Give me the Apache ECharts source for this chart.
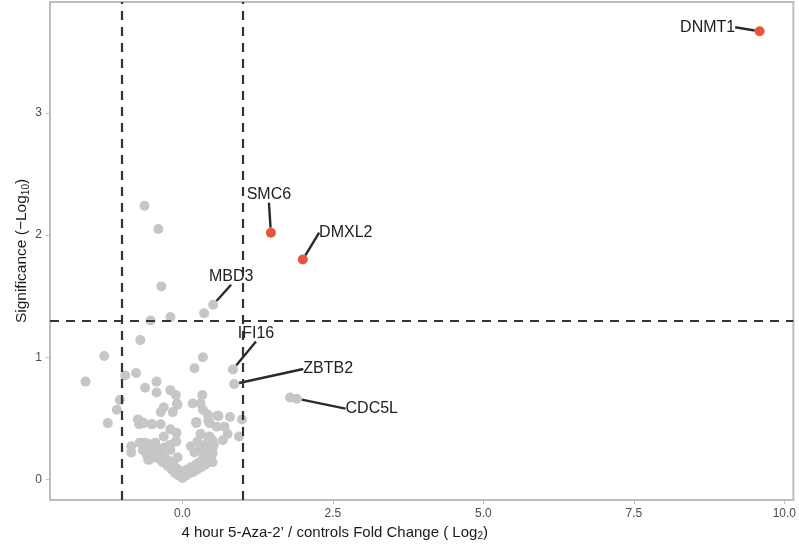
<!DOCTYPE html>
<html><head><meta charset="utf-8">
<script src="https://cdn.jsdelivr.net/npm/echarts@6/dist/echarts.min.js"></script>
<style>html,body{margin:0;padding:0;background:#fff}#c{width:799px;height:548px}</style>
</head><body><div id="c"></div>
<script>
// Labelled genes
const geneNames = ['DNMT1','SMC6','DMXL2','MBD3','IFI16','ZBTB2','CDC5L'];
const geneLogFC = [9.59, 1.47, 2.00, 0.51, 0.84, 0.86, 1.90];
const geneSig   = [3.67, 2.02, 1.80, 1.43, 0.90, 0.78, 0.66];

// Other (unlabelled) genes
const otherLogFC = [
 -0.63,-0.40,-0.35,0.36,-0.20,-0.53,-0.70,-1.30,0.34,0.20,-1.61,-0.95,-0.77,-0.62,-0.43,-0.43,-0.20,-0.11,0.33,
 -1.04,-1.09,-0.31,-0.36,-0.09,-0.16,0.17,0.30,0.34,0.42,0.60,0.79,0.99,-1.24,-0.74,-0.72,-0.64,-0.51,-0.36,
 0.23,0.43,0.57,0.70,0.75,0.67,0.94,-0.20,-0.10,-0.31,-0.11,0.30,0.43,0.50,-0.85,-0.85,-0.71,-0.57,-0.43,
 -0.60,-0.57,0.14,0.25,0.50,0.50,-0.08,0.58,-0.71,-0.66,-0.50,0.23,0.45,0.31,0.45,-0.21,-0.10,0.31,0.45,
 -0.66,-0.55,1.79,
 -0.55,-0.50,-0.48,-0.42,-0.40,-0.35,-0.33,-0.28,-0.25,-0.22,-0.18,-0.15,-0.12,-0.10,-0.06,-0.04,0.00,0.02,
 0.06,0.08,0.12,0.15,0.18,0.22,0.25,0.28,0.32,0.35,0.38,0.40,0.42,0.45,0.48,0.50,0.52,0.38,0.30,0.20,
 -0.30,-0.20,-0.08,-0.62,-0.45
];
const otherSig = [
 2.24,2.05,1.58,1.36,1.33,1.30,1.14,1.01,1.00,0.91,0.80,0.85,0.87,0.75,0.80,0.71,0.73,0.69,0.69,
 0.65,0.57,0.59,0.55,0.62,0.55,0.62,0.62,0.57,0.53,0.52,0.51,0.49,0.46,0.49,0.45,0.46,0.45,0.45,
 0.47,0.48,0.43,0.43,0.37,0.32,0.35,0.41,0.38,0.35,0.31,0.37,0.34,0.32,0.27,0.22,0.30,0.29,0.26,
 0.21,0.16,0.27,0.31,0.25,0.21,0.61,0.52,0.48,0.46,0.45,0.46,0.46,0.37,0.35,0.28,0.31,0.26,0.24,
 0.24,0.16,0.67,
 0.24,0.27,0.20,0.23,0.17,0.20,0.14,0.17,0.11,0.15,0.08,0.12,0.05,0.09,0.03,0.07,0.01,0.05,
 0.03,0.08,0.05,0.10,0.06,0.12,0.08,0.14,0.10,0.18,0.12,0.22,0.16,0.26,0.20,0.14,0.28,0.28,0.24,0.22,
 0.26,0.24,0.18,0.30,0.30
];

const xTicks = [0, 2.5, 5, 7.5, 10];
const yTicks = [0, 1, 2, 3];
const fcCut = 1;
const sigCut = -Math.log10(0.05);

// label offsets (layout only)
const labelOffsets = {
 DNMT1:[-52,-4], SMC6:[-2,-38], DMXL2:[43,-27], MBD3:[18,-28],
 IFI16:[23,-36], ZBTB2:[94,-15], CDC5L:[75,10]
};

const grey = '#c6c6c6', red = '#e8553a';
const otherData = otherLogFC.map((x,i)=>[x, otherSig[i]]);
const geneData = geneNames.map((n,i)=>({
  name:n, value:[geneLogFC[i], geneSig[i]],
  itemStyle:{color: (geneSig[i]>sigCut && Math.abs(geneLogFC[i])>fcCut) ? red : grey}
}));

const chart = echarts.init(document.getElementById('c'));
chart.setOption({
  animation:false,
  textStyle:{fontFamily:'Liberation Sans, Arial, sans-serif'},
  grid:{left:50,right:2,top:2,bottom:48,show:true,borderColor:'#bdbdbd',borderWidth:2,backgroundColor:'#fff'},
  xAxis:{type:'value',min:-2.2,max:10.15,
    name:'4 hour 5-Aza-2’ / controls Fold Change ( Log{s|2})',nameLocation:'middle',nameGap:20,
    nameTextStyle:{color:'#1a1a1a',fontSize:15,padding:[0,174,0,0],rich:{s:{fontSize:10,padding:[8,0,0,0],color:'#1a1a1a'}}},
    axisLine:{show:false,onZero:false},splitLine:{show:false},
    axisTick:{show:true,length:4,lineStyle:{color:'#bdbdbd',width:1},customValues:xTicks},
    axisLabel:{color:'#4d4d4d',fontSize:12,margin:8,customValues:xTicks,formatter:v=>v.toFixed(1)}},
  yAxis:{type:'value',min:-0.17,max:3.91,
    name:'Significance (−Log{s|10})',nameLocation:'middle',nameGap:19,nameRotate:90,nameMoveOverlap:false,
    nameTextStyle:{color:'#1a1a1a',fontSize:15.5,rich:{s:{fontSize:10,padding:[8,0,0,0],color:'#1a1a1a'}}},
    axisLine:{show:false,onZero:false},splitLine:{show:false},
    axisTick:{show:true,length:4,lineStyle:{color:'#bdbdbd',width:1},customValues:yTicks},
    axisLabel:{color:'#4d4d4d',fontSize:12,margin:8,customValues:yTicks}},
  series:[
    {type:'scatter',data:otherData,symbolSize:10,itemStyle:{color:grey,opacity:1},z:2,
     markLine:{silent:true,symbol:'none',label:{show:false},
       lineStyle:{color:'#333',width:2.2,type:[9,7]},
       data:[{xAxis:-fcCut},{xAxis:fcCut},{yAxis:sigCut}]}},
    {type:'scatter',data:geneData,symbolSize:10,z:3,itemStyle:{opacity:1},
     label:{show:true,position:'inside',formatter:'{b}',color:'#222',fontSize:16,opacity:1},
     labelLine:{show:true,lineStyle:{color:'#2a2a2a',width:2.4,opacity:1}},
     labelLayout:function(p){const o=labelOffsets[geneNames[p.dataIndex]];return {dx:o[0],dy:o[1]};}}
  ]
});
</script></body></html>
